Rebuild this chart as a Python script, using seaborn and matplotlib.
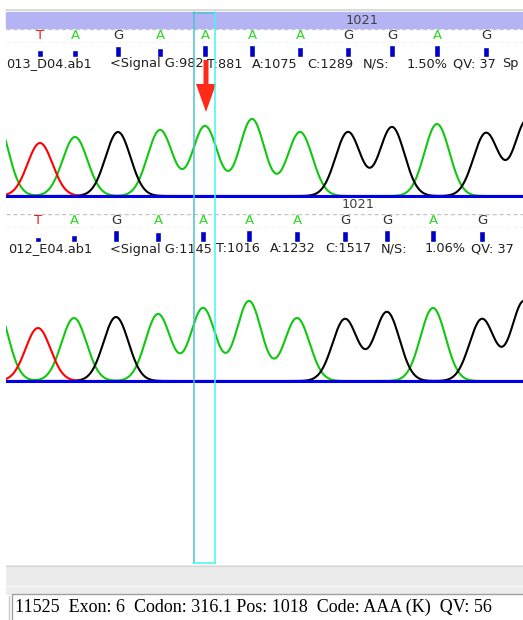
# ===[ Imports: ]==============================================================
import numpy as np
import pandas as pd
import matplotlib
matplotlib.use('Agg')
import matplotlib.pyplot as plt
from matplotlib.patches import Rectangle, FancyArrow
import seaborn as sns

# figure size in pixels (dpi 100)
W, H = 523, 620

# ===[ Data: ]=================================================================
# read 1 (top)
D04_NAME = '013_D04.ab1'
D04_BASES = ['T', 'A', 'G', 'A', 'A', 'A', 'A', 'G', 'G', 'A', 'G']
D04_SCAN = [40, 75, 118, 160, 205, 252, 300, 348, 392, 437, 486]
D04_PEAK = [53, 59, 64, 66, 70, 77, 64, 64, 69, 72, 63]
D04_QV = [35, 35, 50, 42, 56, 56, 48, 48, 56, 56, 48]
# peaks just outside the window (no call shown)
D04_EDGE_BASES = ['A', 'G']
D04_EDGE_SCAN = [-5, 527]
D04_EDGE_PEAK = [80, 76]
D04_SIGNAL = [982, 881, 1075, 1289]
D04_NS = 1.50
D04_MEAN_QV = 37

# read 2 (bottom)
E04_NAME = '012_E04.ab1'
E04_BASES = ['T', 'A', 'G', 'A', 'A', 'A', 'A', 'G', 'G', 'A', 'G']
E04_SCAN = [38, 74, 116, 158, 203, 249, 297, 345, 387, 433, 482]
E04_PEAK = [53, 63, 64, 67, 73, 80, 63, 62, 69, 73, 62]
E04_QV = [25, 33, 56, 45, 52, 56, 52, 52, 56, 56, 52]
E04_EDGE_BASES = ['A', 'G']
E04_EDGE_SCAN = [-5, 524]
E04_EDGE_PEAK = [78, 80]
E04_SIGNAL = [1145, 1016, 1232, 1517]
E04_NS = 1.06
E04_MEAN_QV = 37

SIGNAL_CHANNELS = ['G', 'T', 'A', 'C']
POS_LABEL = 1021

# status bar
STATUS_ID = 11525
STATUS_EXON = 6
STATUS_CODON = 316.1
STATUS_POS = 1018
STATUS_CODE = 'AAA (K)'
STATUS_QV = 56

TRACE_COLORS = {'T': '#ff0000', 'A': '#10c810', 'G': '#000000'}
LETTER_COLORS = {'A': '#30d828', 'C': '#ff9a1a', 'G': '#303030', 'T': '#ee1c1c'}
PEAK_SIGMA = 12.5


# ===[ Helpers: ]==============================================================
def px_axes(fig, x0, y0, x1, y1):
    ax = fig.add_axes([x0 / W, 1 - y1 / H, (x1 - x0) / W, (y1 - y0) / H])
    ax.set_xlim(6, W)
    ax.axis('off')
    return ax


def trace_frame(bases, scans, peaks):
    scan = np.arange(0, 531, 0.5)
    frames = []
    for ch in ['A', 'G', 'T']:
        sig = np.zeros_like(scan)
        for b, p, h in zip(bases, scans, peaks):
            if b == ch:
                sig += h * np.exp(-(scan - p) ** 2 / (2 * PEAK_SIGMA ** 2))
        frames.append(pd.DataFrame({'scan': scan, 'signal': sig, 'channel': ch}))
    return pd.concat(frames, ignore_index=True)


def draw_read(fig, ui, dy, name, bases, scans, peaks, qvs, edge_bases,
              edge_scans, edge_peaks, signal, ns, mean_qv, info_x, pos_x):
    # base call letters between two dashed lines
    ax_l = px_axes(fig, 6, 28.5 + dy, W, 42.7 + dy)
    ax_l.set_ylim(0, 1)
    for yy in (0, 1):
        ax_l.axhline(yy, color='#c4c4c4', lw=1, ls=(0, (3, 2)))
    for b, p in zip(bases, scans):
        ax_l.text(p, 0.5, b, color=LETTER_COLORS[b], fontsize=9.5,
                  ha='center', va='center')

    # quality bars
    ax_q = px_axes(fig, 6, 42.7 + dy, W, 57.3 + dy)
    ax_q.set_ylim(0, 66)
    ax_q.bar(scans, qvs, width=6, color='#0000c8')

    # info line
    parts = [name, f'<Signal G:{signal[0]}']
    parts += [f'{c}:{v}' for c, v in zip(SIGNAL_CHANNELS[1:], signal[1:])]
    parts += ['N/S:', f'{ns:.2f}%', f'QV: {mean_qv}', 'Sp']
    for txt, x in zip(parts, info_x):
        ui.text(x, 64 + dy, txt, fontsize=9.3, color='#202020', va='center')

    ui.text(pos_x, 20 + dy, str(POS_LABEL), fontsize=9.3, color='#404040',
            ha='center', va='center', zorder=3)

    # traces
    ax_t = px_axes(fig, 6, 100 + dy, W, 200 + dy)
    ax_t.set_ylim(-4, 96)
    df = trace_frame(bases + edge_bases, scans + edge_scans, peaks + edge_peaks)
    sns.lineplot(data=df, x='scan', y='signal', hue='channel',
                 palette=TRACE_COLORS, estimator=None, lw=1.5,
                 legend=False, ax=ax_t)
    ax_t.axhline(0, color='#0000e6', lw=2.2, zorder=5)
    ax_t.axis('off')


# ===[ Main: ]=================================================================
def main():
    sns.set_style('white')
    plt.rcParams['font.family'] = ['DejaVu Sans']

    fig = plt.figure(figsize=(W / 100, H / 100), dpi=100)

    # overlay in pixel units, used for window decorations and text
    ui = fig.add_axes([0, 0, 1, 1])
    ui.set_xlim(0, W)
    ui.set_ylim(H, 0)
    ui.axis('off')

    ui.plot([6, W], [10, 10], color='#d4d4d4', lw=1.2)
    ui.add_patch(Rectangle((6, 12), W - 6, 15.5, color='#b4b4f4', zorder=1))

    draw_read(fig, ui, 0, D04_NAME, D04_BASES, D04_SCAN, D04_PEAK, D04_QV,
              D04_EDGE_BASES, D04_EDGE_SCAN, D04_EDGE_PEAK, D04_SIGNAL,
              D04_NS, D04_MEAN_QV,
              [6, 110, 207, 252, 307, 363, 407, 453, 502], 362)
    draw_read(fig, ui, 185, E04_NAME, E04_BASES, E04_SCAN, E04_PEAK, E04_QV,
              E04_EDGE_BASES, E04_EDGE_SCAN, E04_EDGE_PEAK, E04_SIGNAL,
              E04_NS, E04_MEAN_QV,
              [8, 110, 216, 270, 325, 381, 425, 471], 358)

    # selection box + arrow, on top of everything
    top = fig.add_axes([0, 0, 1, 1])
    top.set_xlim(0, W)
    top.set_ylim(H, 0)
    top.axis('off')
    top.plot([193.5, 193.5], [12, 563], color='#4cc4cc', lw=1.1)
    top.plot([193, 215], [12.5, 12.5], color='#4cc4cc', lw=1.1)
    top.plot([214.5, 214.5], [12, 563], color='#44f4f4', lw=1.1)
    top.plot([193, 215], [562.5, 562.5], color='#44f4f4', lw=1.1)
    top.add_patch(FancyArrow(206, 60, 0, 52, width=5, head_width=20,
                             head_length=28, length_includes_head=True,
                             color='#ff2a1a', lw=0))

    # bottom grey area + status bar
    top.add_patch(Rectangle((6, 565), W - 6, 30, facecolor='#ececec', lw=0))
    top.plot([6, W], [565.5, 565.5], color='#d8d8d8', lw=1)
    top.plot([6, W], [585.5, 585.5], color='#f8f8f8', lw=1)
    top.add_patch(Rectangle((12, 594), W, 30, facecolor='white',
                            edgecolor='#a0a0a0', lw=1))
    top.plot([8.5, 8.5], [596, H], color='#c8c8c8', lw=1)
    status = (f'{STATUS_ID}  Exon: {STATUS_EXON}  Codon: {STATUS_CODON} '
              f'Pos: {STATUS_POS}  Code: {STATUS_CODE}  QV: {STATUS_QV}')
    top.text(15, 607, status, family=['Liberation Serif'], fontsize=13,
             va='center', color='black')

    fig.savefig('out.png', dpi=100)


if __name__ == '__main__':
    main()
